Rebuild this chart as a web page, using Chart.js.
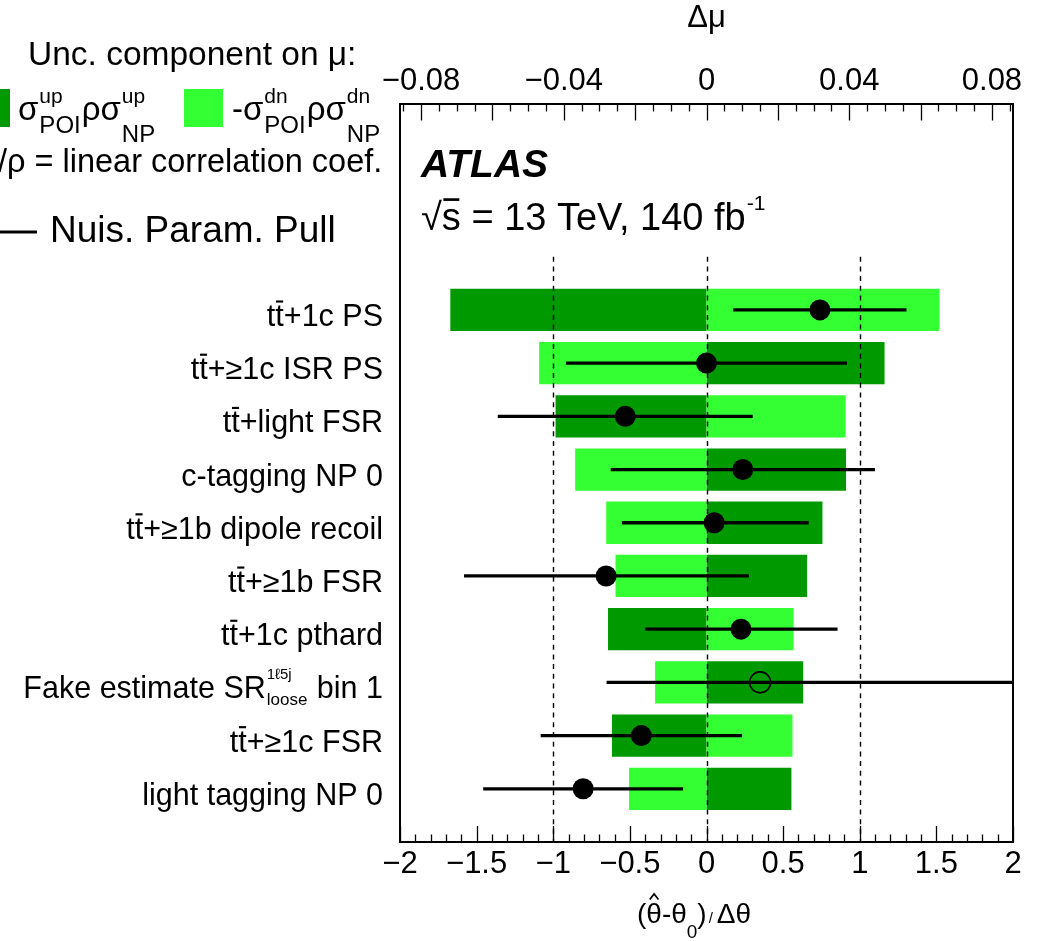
<!DOCTYPE html>
<html>
<head>
<meta charset="utf-8">
<script src="https://cdn.jsdelivr.net/npm/chart.js@4.4.1/dist/chart.umd.min.js"></script>
<style>
  html, body { margin: 0; padding: 0; background: #ffffff; }
  #wrap { width: 1048px; height: 941px; position: relative; }
  canvas { display: block; }
</style>
</head>
<body>
<div id="wrap"><canvas id="rank" width="1048" height="941"></canvas></div>
<script>
const FONT = "'Liberation Sans', Arial, Helvetica, sans-serif";

// Nuisance parameters, ranked by impact (top row first)
const categories = [
  "tt\u0304+1c PS",
  "tt\u0304+\u22651c ISR PS",
  "tt\u0304+light FSR",
  "c-tagging NP 0",
  "tt\u0304+\u22651b dipole recoil",
  "tt\u0304+\u22651b FSR",
  "tt\u0304+1c pthard",
  "Fake estimate SR^{1\u21135j}_{loose} bin 1",
  "tt\u0304+\u22651c FSR",
  "light tagging NP 0"
];

// Uncertainty components on mu (top axis, in units of delta mu)
const impactUp   = [-0.0718, 0.0499, -0.0423, 0.0391, 0.0325, 0.0282, -0.0276, 0.0271, -0.0265, 0.0238];
const impactDown = [ 0.0653, -0.0469, 0.0390, -0.0368, -0.0281, -0.0255, 0.0244, -0.0144, 0.0241, -0.0217];

// Nuisance parameter pulls (bottom axis)
const pulls       = [0.740, 0.000, -0.530, 0.237, 0.050, -0.655, 0.225, 0.350, -0.425, -0.805];
const pullErrDown = [0.563, 0.915, 0.830, 0.860, 0.600, 0.925, 0.622, 1.000, 0.655, 0.650];
const pullErrUp   = [0.563, 0.915, 0.830, 0.860, 0.615, 0.930, 0.628, 1.900, 0.655, 0.650];
const pullOpen    = [false, false, false, false, false, false, false, true, false, false];

// Axis ticks and reference lines
const pullTicks   = [-2, -1.5, -1, -0.5, 0, 0.5, 1, 1.5, 2];
const impactTicks = [-0.08, -0.04, 0, 0.04, 0.08];
const refLines    = [-1, 0, 1];

const DARK = '#009900';
const LIGHT = '#33ff33';

function minusFmt(v, digits) {
  if (Math.abs(v) < 1e-9) return '0';
  const s = digits === undefined ? String(Math.abs(v)) : Math.abs(v).toFixed(digits);
  return (v < 0 ? '\u2212' : '') + s;
}

// ---- small rich-text helper: ^{sup}, _{sub}, _[dy]{sub}, combining bar / hat ----
function richItems(str) {
  const re = /([\^_])(?:\[(-?[\d.]+)\])?\{([^}]*)\}/g;
  const items = [];
  let last = 0, m;
  while ((m = re.exec(str)) !== null) {
    if (m.index > last) items.push({ kind: 'text', s: str.slice(last, m.index) });
    const key = m[1] === '^' ? 'sup' : 'sub';
    let prev = items[items.length - 1];
    if (!(prev && prev.kind === 'script' && m.index === last && prev[key] === undefined)) {
      prev = { kind: 'script' };
      items.push(prev);
    }
    prev[key] = m[3];
    if (m[2] !== undefined) prev[key + 'Dy'] = parseFloat(m[2]);
    last = re.lastIndex;
  }
  if (last < str.length) items.push({ kind: 'text', s: str.slice(last) });
  return items;
}
function textSegments(s) {
  const segs = [];
  let buf = '';
  for (let i = 0; i < s.length; i++) {
    const c = s[i], n = s[i + 1];
    if (n === '\u0304' || n === '\u0302') {
      if (buf) { segs.push({ s: buf }); buf = ''; }
      segs.push({ s: c, mark: n });
      i++;
    } else buf += c;
  }
  if (buf) segs.push({ s: buf });
  return segs;
}
function fontStr(o, size) {
  return (o.style || 'normal') + ' ' + (o.weight || 'normal') + ' ' + size + 'px ' + (o.family || FONT);
}
function drawRich(ctx, str, x, y, o) {
  const runs = [];
  let w = 0;
  for (const it of richItems(str)) {
    if (it.kind === 'text') {
      ctx.font = fontStr(o, o.size);
      for (const seg of textSegments(it.s)) {
        const sw = ctx.measureText(seg.s).width;
        runs.push({ s: seg.s, mark: seg.mark, x: w, dy: 0, size: o.size, w: sw });
        w += sw;
      }
    } else {
      let ww = 0;
      const gap = o.scriptGap !== undefined ? o.scriptGap : 1;
      if (it.sup !== undefined) {
        ctx.font = fontStr(o, o.supSize);
        const sw = ctx.measureText(it.sup).width;
        runs.push({ s: it.sup, x: w + gap, dy: -(it.supDy !== undefined ? it.supDy : o.supDy), size: o.supSize, w: sw });
        ww = Math.max(ww, sw);
      }
      if (it.sub !== undefined) {
        ctx.font = fontStr(o, o.subSize);
        const sw = ctx.measureText(it.sub).width;
        runs.push({ s: it.sub, x: w + gap, dy: (it.subDy !== undefined ? it.subDy : o.subDy), size: o.subSize, w: sw });
        ww = Math.max(ww, sw);
      }
      w += ww + gap * 2;
    }
  }
  const x0 = o.align === 'right' ? x - w : (o.align === 'center' ? x - w / 2 : x);
  ctx.save();
  ctx.fillStyle = o.color || '#000';
  ctx.strokeStyle = o.color || '#000';
  ctx.textBaseline = 'alphabetic';
  ctx.textAlign = 'left';
  for (const r of runs) {
    ctx.font = fontStr(o, r.size);
    ctx.fillText(r.s, x0 + r.x, y + r.dy);
    if (r.mark === '\u0304') {
      const t = Math.max(1.5, r.size * 0.07);
      ctx.fillRect(x0 + r.x + r.w * 0.08, y + r.dy - r.size * 0.80 - t / 2, r.w * 0.84, t);
    } else if (r.mark === '\u0302') {
      ctx.lineWidth = Math.max(1.3, r.size * 0.06);
      ctx.beginPath();
      ctx.moveTo(x0 + r.x + r.w * 0.22, y + r.dy - r.size * 0.84);
      ctx.lineTo(x0 + r.x + r.w * 0.5, y + r.dy - r.size * 1.04);
      ctx.lineTo(x0 + r.x + r.w * 0.78, y + r.dy - r.size * 0.84);
      ctx.stroke();
    }
  }
  ctx.restore();
  return w;
}

// ---- frame, inward ticks, reference lines and text annotations ----
const framePlugin = {
  id: 'frame',
  beforeDatasetDraw(chart, args) {
    if (args.index !== 2) return;
    const { ctx, chartArea } = chart;
    const xs = chart.scales.x, ys = chart.scales.y;
    ctx.save();
    ctx.beginPath();
    ctx.rect(chartArea.left, chartArea.top, chartArea.right - chartArea.left, chartArea.bottom - chartArea.top);
    ctx.clip();
    ctx.strokeStyle = '#000';
    ctx.lineWidth = 1.4;
    ctx.setLineDash([5, 4.7]);
    const yTop = ys.getPixelForValue(-1);
    for (const v of refLines) {
      const px = Math.round(xs.getPixelForValue(v)) + 0.5;
      ctx.beginPath();
      ctx.moveTo(px, yTop);
      ctx.lineTo(px, chartArea.bottom);
      ctx.stroke();
    }
    ctx.restore();
  },
  afterDraw(chart) {
    const { ctx, chartArea } = chart;
    const xs = chart.scales.x, x2 = chart.scales.x2, ys = chart.scales.y;
    const L = chartArea.left, R = chartArea.right, T = chartArea.top, B = chartArea.bottom;
    ctx.save();
    ctx.strokeStyle = '#000';
    ctx.lineWidth = 1.3;
    // bottom axis ticks (pull)
    for (let k = -20; k <= 20; k++) {
      const v = k / 10;
      const px = Math.round(xs.getPixelForValue(v)) + 0.5;
      const len = (k % 5 === 0) ? 16 : 7.5;
      ctx.beginPath(); ctx.moveTo(px, B); ctx.lineTo(px, B - len); ctx.stroke();
    }
    // top axis ticks (delta mu)
    for (let k = -17; k <= 17; k++) {
      const v = k * 0.005;
      if (v < x2.min || v > x2.max) continue;
      const px = Math.round(x2.getPixelForValue(v)) + 0.5;
      const len = (k % 4 === 0) ? 16.5 : 7.5;
      ctx.beginPath(); ctx.moveTo(px, T); ctx.lineTo(px, T + len); ctx.stroke();
    }
    // frame
    ctx.lineWidth = 2;
    ctx.strokeRect(L, T, R - L, B - T);
    ctx.restore();

    // parameter names
    categories.forEach((name, i) => {
      drawRich(ctx, name, 383, ys.getPixelForValue(i) + 16, {
        size: 30.5, supSize: 15, supDy: 19, subSize: 17, subDy: 7, align: 'right', scriptGap: 1
      });
    });

    // ATLAS label
    ctx.save();
    ctx.fillStyle = '#000';
    ctx.textBaseline = 'alphabetic';
    ctx.font = 'italic bold 39px ' + FONT;
    ctx.fillText('ATLAS', 421, 177);
    ctx.restore();
    drawRich(ctx, '\u221as\u0304 = 13 TeV, 140 fb^{-1}', 421, 230, { size: 38, supSize: 21, supDy: 20, scriptGap: 1 });

    // legend block
    drawRich(ctx, 'Unc. component on \u03bc:', 28, 65, { size: 33.5 });
    ctx.save();
    ctx.fillStyle = DARK; ctx.fillRect(-30, 89, 40, 38);
    ctx.fillStyle = LIGHT; ctx.fillRect(184, 89, 39, 38);
    ctx.restore();
    const sig = { size: 33, supSize: 21, supDy: 17, subSize: 24, subDy: 13, scriptGap: 1 };
    drawRich(ctx, '\u03c3^{up}_{POI}\u03c1\u03c3^{up}_[22]{NP}', 18, 120, sig);
    drawRich(ctx, '-\u03c3^{dn}_{POI}\u03c1\u03c3^{dn}_[22]{NP}', 232, 120, sig);
    ctx.save();
    ctx.font = '32.5px ' + FONT;
    const slashW = ctx.measureText('/').width;
    ctx.restore();
    drawRich(ctx, '/\u03c1 = linear correlation coef.', 7 - slashW, 172, { size: 32.5 });
    ctx.save();
    ctx.strokeStyle = '#000'; ctx.lineWidth = 3;
    ctx.beginPath(); ctx.moveTo(0, 232); ctx.lineTo(37, 232); ctx.stroke();
    ctx.restore();
    drawRich(ctx, 'Nuis. Param. Pull', 50, 242, { size: 37 });

    // bottom axis title
    let tx = 637;
    tx += drawRich(ctx, '(\u03b8\u0302-\u03b8_{0})', tx, 923, { size: 28, subSize: 19, subDy: 15, scriptGap: 0 });
    tx += 2;
    tx += drawRich(ctx, '/', tx, 923, { size: 15 });
    tx += 4;
    drawRich(ctx, '\u0394\u03b8', tx, 923, { size: 28 });
  }
};

const rows = categories.map((_, i) => i);

new Chart(document.getElementById('rank'), {
  type: 'bar',
  data: {
    datasets: [
      {
        label: 'up',
        indexAxis: 'y',
        xAxisID: 'x2', yAxisID: 'y',
        data: rows.map(i => ({ y: i, x: [0, impactUp[i]] })),
        backgroundColor: DARK,
        borderWidth: 0,
        order: 4
      },
      {
        label: 'dn',
        indexAxis: 'y',
        xAxisID: 'x2', yAxisID: 'y',
        data: rows.map(i => ({ y: i, x: [0, impactDown[i]] })),
        backgroundColor: LIGHT,
        borderWidth: 0,
        order: 3
      },
      {
        label: 'pull error',
        indexAxis: 'y',
        xAxisID: 'x', yAxisID: 'y',
        data: rows.map(i => ({ y: i, x: [pulls[i] - pullErrDown[i], pulls[i] + pullErrUp[i]] })),
        backgroundColor: '#000000',
        borderWidth: 0,
        barThickness: 2.6,
        order: 2
      },
      {
        label: 'pull',
        type: 'scatter',
        xAxisID: 'x', yAxisID: 'y',
        data: rows.map(i => ({ x: pulls[i], y: i })),
        pointRadius: 10.5,
        pointHoverRadius: 10.5,
        backgroundColor: ctx => pullOpen[ctx.dataIndex] ? 'rgba(0,0,0,0)' : '#000000',
        borderColor: '#000000',
        borderWidth: ctx => pullOpen[ctx.dataIndex] ? 1.6 : 0,
        showLine: false,
        order: 1
      }
    ]
  },
  options: {
    responsive: false,
    devicePixelRatio: 1,
    animation: false,
    events: [],
    layout: { padding: { left: 400, right: 35, top: 0, bottom: 0 } },
    datasets: {
      bar: { grouped: false, categoryPercentage: 1, barPercentage: 0.795 }
    },
    plugins: { legend: { display: false }, tooltip: { enabled: false } },
    scales: {
      x: {
        type: 'linear',
        position: 'bottom',
        offset: false,
        min: -2, max: 2,
        grid: { display: false, drawTicks: false, offset: false },
        border: { display: false },
        ticks: {
          color: '#000', padding: 4, maxRotation: 0, minRotation: 0, autoSkip: false,
          font: { family: FONT, size: 31 },
          callback: v => minusFmt(v)
        },
        afterBuildTicks: s => { s.ticks = pullTicks.map(v => ({ value: v })); },
        afterFit: s => { s.height = 99; }
      },
      x2: {
        type: 'linear',
        position: 'top',
        offset: false,
        min: -0.0859, max: 0.0859,
        grid: { display: false, drawTicks: false, offset: false },
        border: { display: false },
        ticks: {
          color: '#000', padding: 4, maxRotation: 0, minRotation: 0, autoSkip: false,
          font: { family: FONT, size: 31 },
          callback: v => minusFmt(v, 2)
        },
        title: {
          display: true, text: '\u0394\u03bc', color: '#000',
          font: { family: FONT, size: 31 }, padding: { top: 0, bottom: 0 }
        },
        afterBuildTicks: s => { s.ticks = impactTicks.map(v => ({ value: v })); },
        afterFit: s => { s.height = 104; }
      },
      y: {
        type: 'linear',
        display: false,
        offset: false,
        reverse: true,
        min: -3.87, max: 10,
        grid: { offset: false },
        afterBuildTicks: s => { s.ticks = rows.map(v => ({ value: v })); }
      }
    }
  },
  plugins: [framePlugin]
});
</script>
</body>
</html>
